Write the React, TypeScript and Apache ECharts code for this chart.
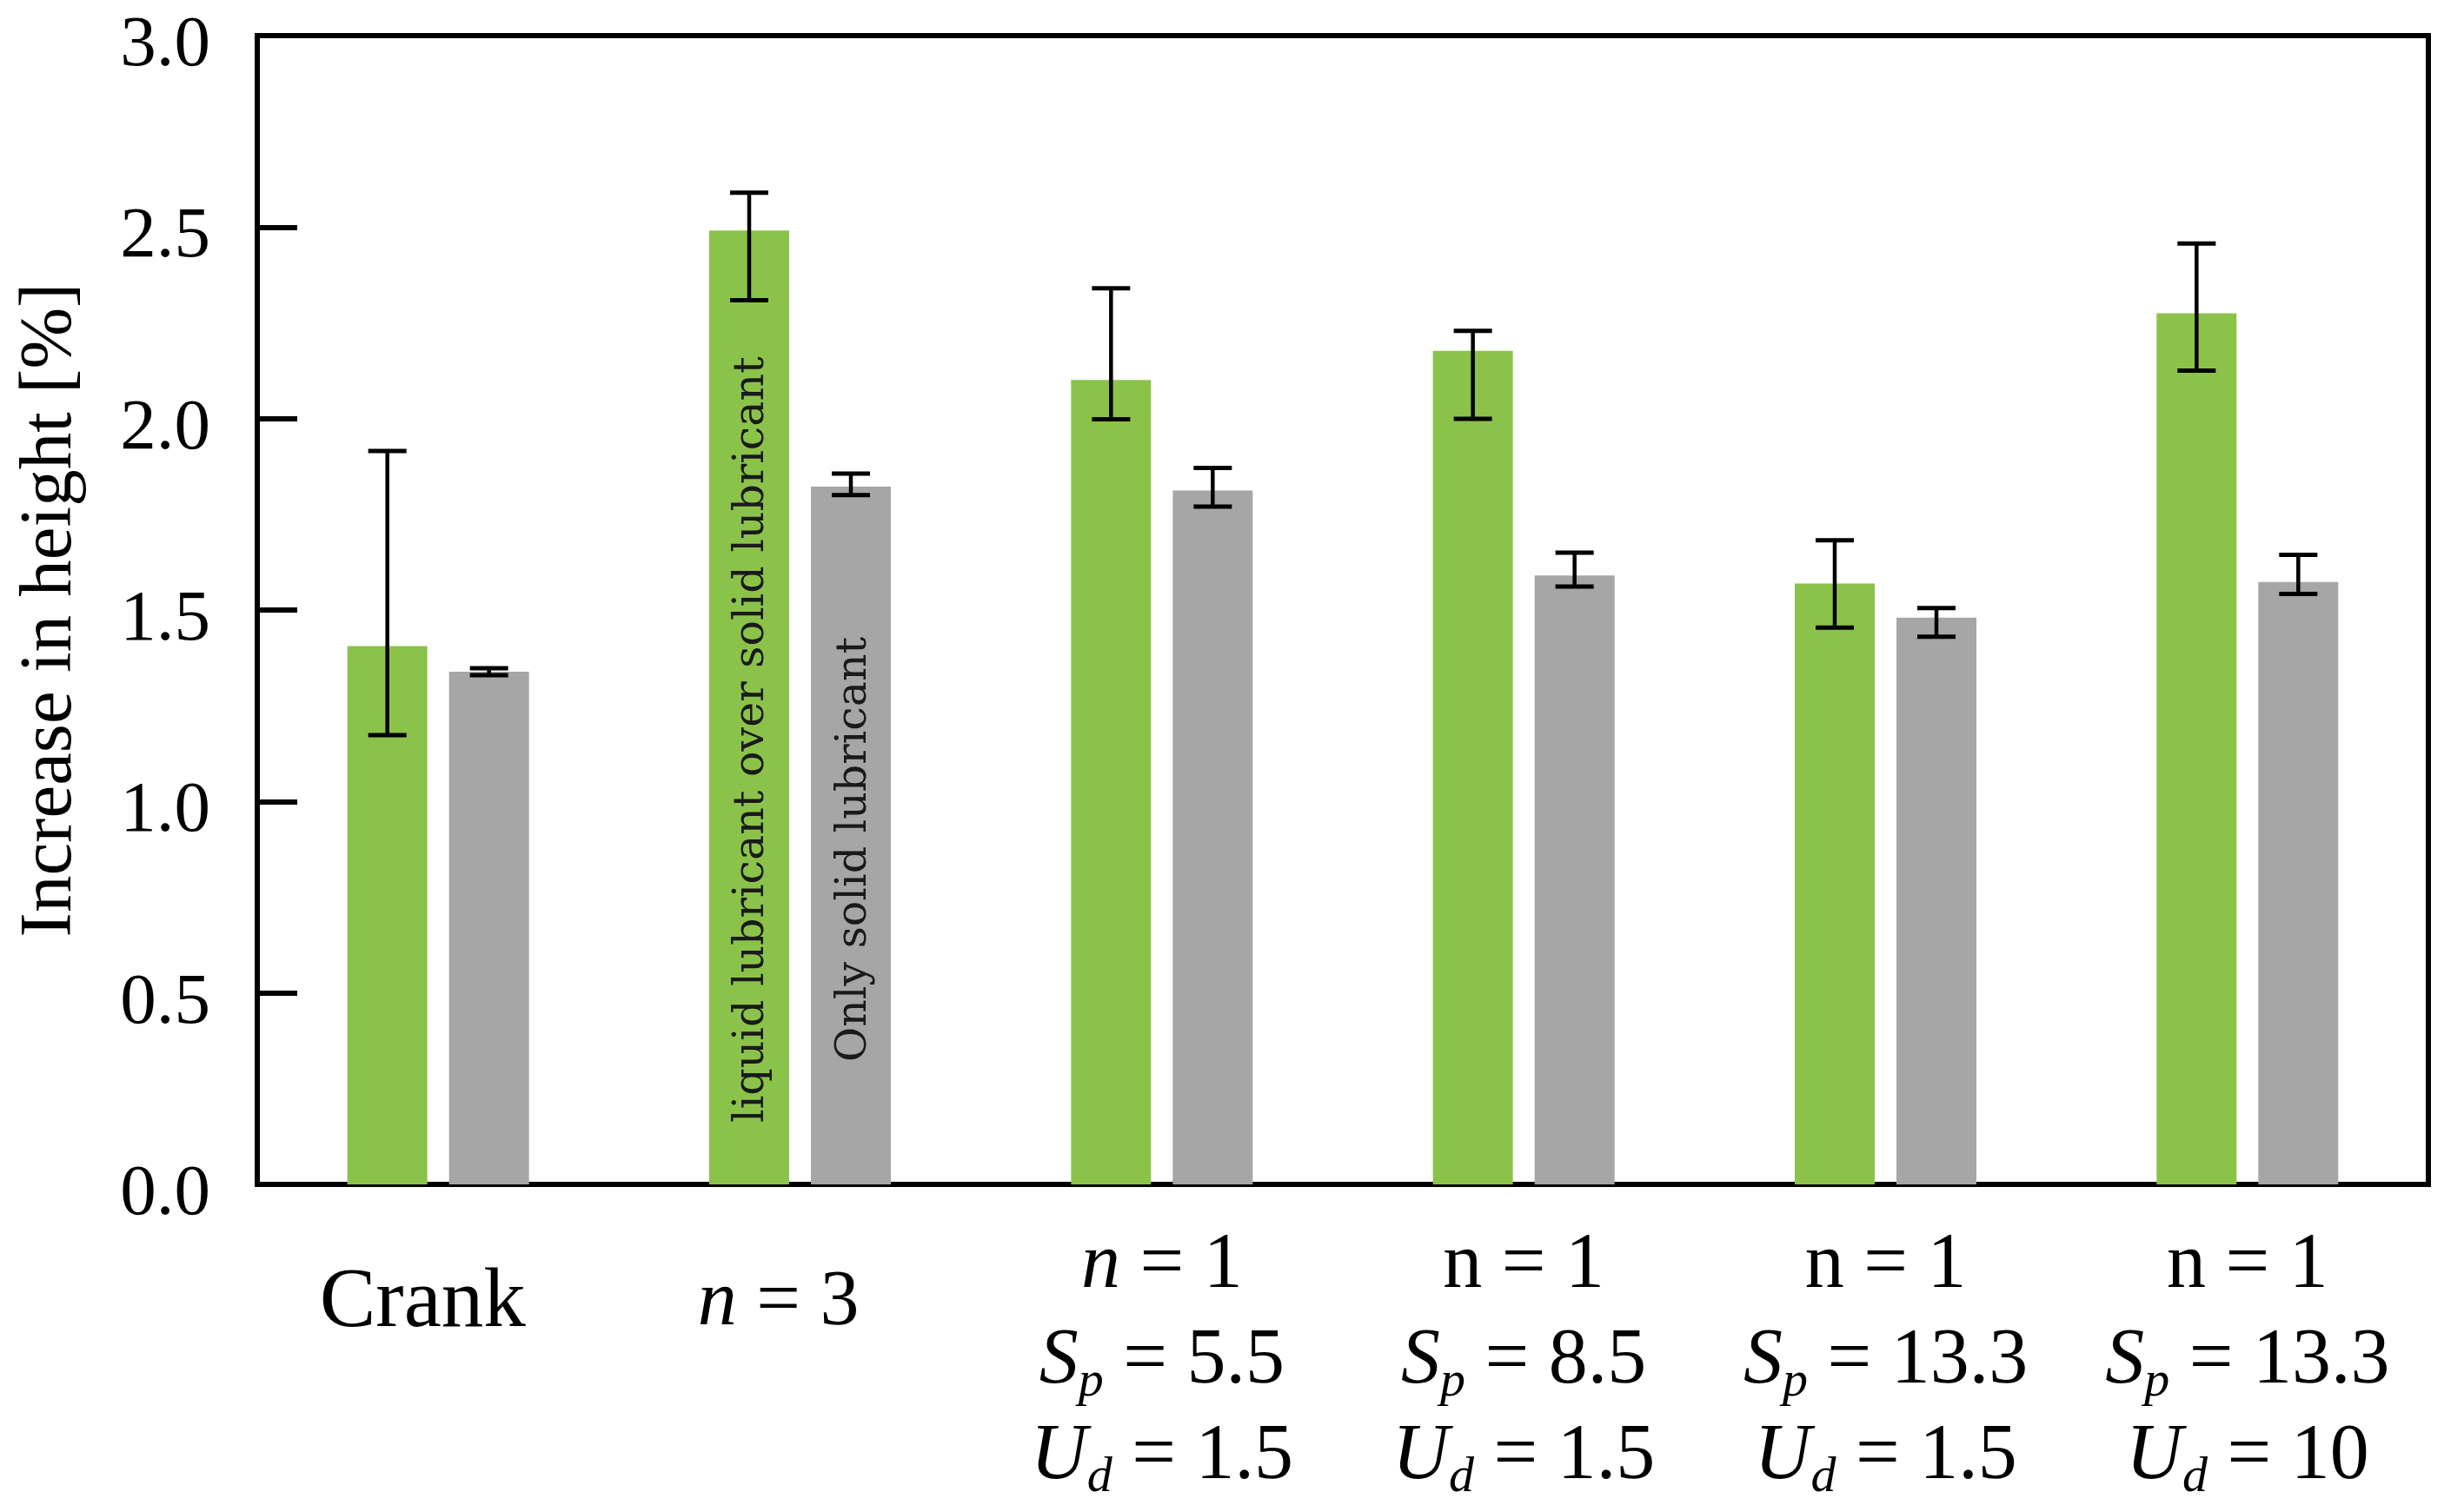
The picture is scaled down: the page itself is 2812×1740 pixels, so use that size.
import React, { useEffect, useRef } from "react";
import * as echarts from "echarts";

// ---- data ----
const categories = [
  "Crank",
  "n = 3",
  "n = 1, Sp = 5.5, Ud = 1.5",
  "n = 1, Sp = 8.5, Ud = 1.5",
  "n = 1, Sp = 13.3, Ud = 1.5",
  "n = 1, Sp = 13.3, Ud = 10",
];
const tickLabels = [
  "{crank|Crank}",
  "{bigi|n}{bign| = 3}",
  "{i|n} = 1\n{i|S}{sub|p} = 5.5\n{i|U}{sub|d} = 1.5",
  "n = 1\n{i|S}{sub|p} = 8.5\n{i|U}{sub|d} = 1.5",
  "n = 1\n{i|S}{sub|p} = 13.3\n{i|U}{sub|d} = 1.5",
  "n = 1\n{i|S}{sub|p} = 13.3\n{i|U}{sub|d} = 10",
];
const yTicks = [0, 0.5, 1.0, 1.5, 2.0, 2.5, 3.0];

const liquidName = "liquid lubricant over solid lubricant";
const solidName = "Only solid lubricant";

const liquid = [1.406, 2.491, 2.101, 2.177, 1.569, 2.275];
const liquidLow = [1.173, 2.309, 1.998, 1.999, 1.454, 2.125];
const liquidHigh = [1.915, 2.59, 2.34, 2.229, 1.682, 2.457];

const solid = [1.339, 1.822, 1.812, 1.59, 1.48, 1.573];
const solidLow = [1.33, 1.8, 1.77, 1.561, 1.43, 1.542];
const solidHigh = [1.348, 1.856, 1.871, 1.65, 1.505, 1.644];

const labelledIndex = 1;

// ---- styling ----
const GREEN = "#8BC34A";
const GRAY = "#A6A6A6";
const BAR_W = 92;
const GAP_PX = 25;
const SERIF = "'Liberation Serif', 'Times New Roman', serif";
const INNER_FONT = "'DejaVu Serif', serif";

function errorSeries(low: number[], high: number[], side: number) {
  return {
    type: "custom",
    z: 10,
    silent: true,
    data: low.map((l, i) => [i, l, high[i]]),
    encode: { x: 0, y: [1, 2] },
    renderItem: (_params: any, api: any) => {
      const x = api.value(0);
      const lo = api.coord([x, api.value(1)]);
      const hi = api.coord([x, api.value(2)]);
      const cx = lo[0] + (side * (BAR_W + GAP_PX)) / 2;
      const half = 22;
      const stem = { stroke: "#000", lineWidth: 4.5 };
      const cap = { stroke: "#000", lineWidth: 5 };
      return {
        type: "group",
        children: [
          { type: "line", shape: { x1: cx, y1: hi[1], x2: cx, y2: lo[1] }, style: stem },
          { type: "line", shape: { x1: cx - half, y1: hi[1], x2: cx + half, y2: hi[1] }, style: cap },
          { type: "line", shape: { x1: cx - half, y1: lo[1], x2: cx + half, y2: lo[1] }, style: cap },
        ],
      };
    },
  };
}

function barData(values: number[], name: string, distance: number) {
  return values.map((v, i) =>
    i === labelledIndex
      ? {
          value: v,
          label: {
            show: true,
            formatter: name,
            position: "insideBottom",
            distance,
            rotate: 90,
            align: "left",
            verticalAlign: "middle",
            fontFamily: INNER_FONT,
            fontSize: 49,
            color: "#1a1a1a",
          },
        }
      : v
  );
}

export default function App() {
  const ref = useRef<HTMLDivElement>(null);

  useEffect(() => {
    document.body.style.margin = "0";
    const chart = echarts.init(ref.current!, null, { renderer: "svg" });
    const rich = {
      i: { fontStyle: "italic", fontFamily: SERIF, fontSize: 90, lineHeight: 110, color: "#000" },
      sub: {
        fontStyle: "italic",
        fontFamily: SERIF,
        fontSize: 58,
        lineHeight: 62,
        verticalAlign: "bottom",
        color: "#000",
      },
      crank: {
        fontFamily: SERIF,
        fontSize: 97,
        lineHeight: 196,
        color: "#000",
        padding: [0, 36, 0, 0],
      },
      bigi: { fontFamily: SERIF, fontStyle: "italic", fontSize: 90, lineHeight: 196, color: "#000" },
      bign: {
        fontFamily: SERIF,
        fontSize: 90,
        lineHeight: 196,
        color: "#000",
        padding: [0, 50, 0, 0],
      },
    };
    chart.setOption({
      animation: false,
      backgroundColor: "#fff",
      grid: {
        left: 296,
        right: 18,
        top: 41,
        bottom: 377,
        show: true,
        borderColor: "#000",
        borderWidth: 6,
        backgroundColor: "transparent",
      },
      xAxis: {
        type: "category",
        data: categories,
        axisLine: { show: false },
        axisTick: { show: false },
        axisLabel: {
          interval: 0,
          margin: 32,
          fontFamily: SERIF,
          fontSize: 90,
          lineHeight: 110,
          color: "#000",
          formatter: (_v: string, idx: number) => tickLabels[idx],
          rich,
        },
      },
      yAxis: {
        type: "value",
        min: 0,
        max: 3,
        interval: 0.5,
        name: "Increase in height [%]",
        nameLocation: "middle",
        nameGap: 202,
        nameTextStyle: { fontFamily: SERIF, fontSize: 85, color: "#000" },
        axisLine: { show: false },
        splitLine: { show: false },
        axisTick: {
          show: true,
          inside: true,
          length: 46,
          lineStyle: { color: "#000", width: 6 },
        },
        axisLabel: {
          margin: 54,
          fontFamily: SERIF,
          fontSize: 83,
          verticalAlign: "top",
          lineHeight: 12,
          color: "#000",
          formatter: (v: number) => (yTicks.includes(v) ? v.toFixed(1) : ""),
        },
      },
      series: [
        {
          type: "bar",
          name: liquidName,
          data: barData(liquid, liquidName, 71),
          barWidth: BAR_W,
          barGap: `${((GAP_PX / BAR_W) * 100).toFixed(1)}%`,
          itemStyle: { color: GREEN },
        },
        {
          type: "bar",
          name: solidName,
          data: barData(solid, solidName, 141),
          barWidth: BAR_W,
          itemStyle: { color: GRAY },
        },
        errorSeries(liquidLow, liquidHigh, -1),
        errorSeries(solidLow, solidHigh, 1),
      ],
    });
    return () => chart.dispose();
  }, []);

  return <div ref={ref} style={{ width: 2812, height: 1740 }} />;
}
